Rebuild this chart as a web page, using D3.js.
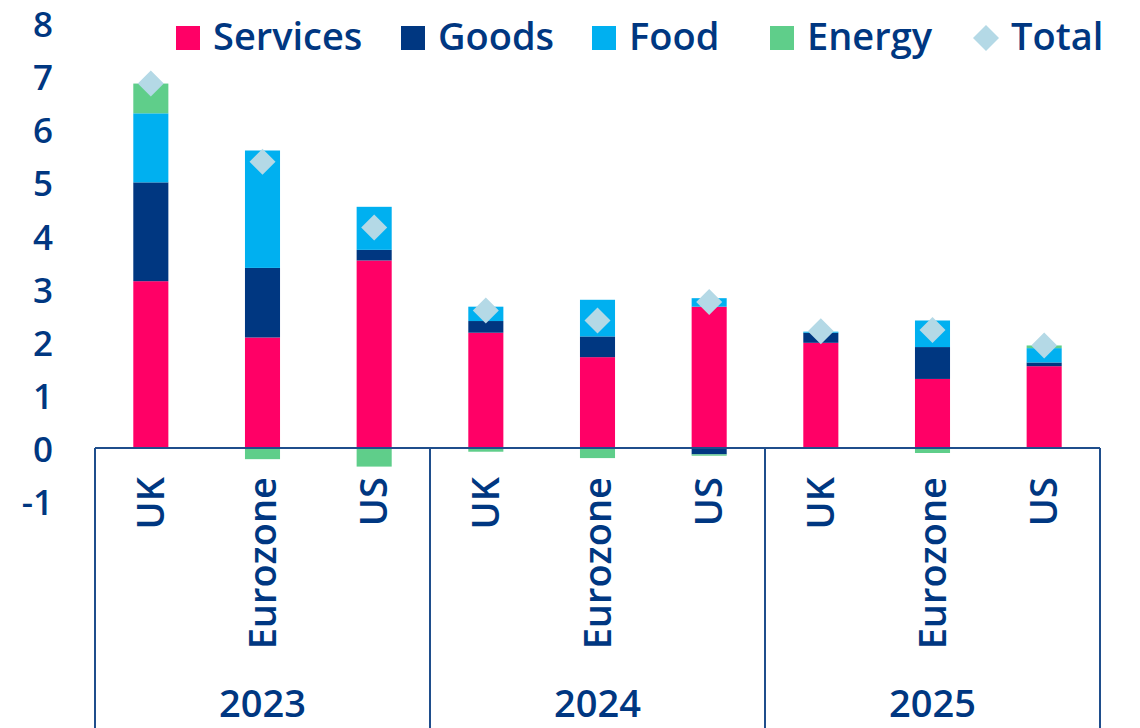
<!DOCTYPE html>
<html>
<head>
<meta charset="utf-8">
<script src="https://cdn.jsdelivr.net/npm/d3@7/dist/d3.min.js"></script>
<style>
  html, body { margin: 0; padding: 0; background: #ffffff; }
  svg { display: block; }
  text { font-family: "Open Sans", sans-serif; font-weight: 600; fill: #003781; }
</style>
</head>
<body>
<svg id="chart" width="1140" height="728"></svg>
<script>
// ---- data ----
const years = ["2023", "2024", "2025"];
const regions = ["UK", "Eurozone", "US"];
const seriesNames = ["Services", "Goods", "Food", "Energy"];
const services = [3.14, 2.08, 3.53, 2.17, 1.71, 2.66, 1.98, 1.30, 1.54];
const goods    = [1.86, 1.31, 0.20, 0.22, 0.39, -0.12, 0.19, 0.60, 0.07];
const food     = [1.30, 2.21, 0.81, 0.27, 0.69, 0.16, 0.02, 0.50, 0.27];
const energy   = [0.56, -0.21, -0.35, -0.07, -0.19, -0.025, 0.0, -0.094, 0.05];
const total    = [6.86, 5.39, 4.15, 2.59, 2.40, 2.75, 2.20, 2.22, 1.93];
const yTicks   = [-1, 0, 1, 2, 3, 4, 5, 6, 7, 8];
const colors   = ["#FF0066", "#003781", "#00B0F0", "#5FCE8A"];
const totalColor = "#B4D9E6";

// ---- build rows ----
const rows = [];
years.forEach((yr, gi) => regions.forEach((rg, ri) => {
  const i = gi * regions.length + ri;
  rows.push({ key: yr + "|" + rg, year: yr, region: rg,
    Services: services[i], Goods: goods[i], Food: food[i], Energy: energy[i], Total: total[i] });
}));

const svg = d3.select("#chart");
const W = 1140, H = 728;
const left = 95, right = 1100;

const x = d3.scaleBand().domain(rows.map(d => d.key)).range([left, right])
  .paddingInner(0.686).paddingOuter(0.343);
const y = d3.scaleLinear().domain([0, 8]).range([448, 23]);

const stack = d3.stack().keys(seriesNames).offset(d3.stackOffsetDiverging);
const stacked = stack(rows);

// bars
svg.append("g").selectAll("g").data(stacked).join("g")
  .attr("fill", (d, i) => colors[i])
  .selectAll("rect").data(d => d).join("rect")
  .attr("x", d => x(d.data.key))
  .attr("width", x.bandwidth())
  .attr("y", d => y(Math.max(d[0], d[1])))
  .attr("height", d => Math.abs(y(d[0]) - y(d[1])));

// axis frame
const axisColor = "#1F4E8C";
svg.append("line").attr("x1", left).attr("x2", right).attr("y1", y(0)).attr("y2", y(0))
  .attr("stroke", axisColor).attr("stroke-width", 2);

const groupScale = d3.scaleBand().domain(years).range([left, right]);
const bounds = years.map(g => groupScale(g)).concat([right]);
svg.append("g").selectAll("line").data(bounds).join("line")
  .attr("x1", d => d).attr("x2", d => d)
  .attr("y1", y(0)).attr("y2", H)
  .attr("stroke", axisColor).attr("stroke-width", 2);

// total diamonds
svg.append("g").selectAll("path").data(rows).join("path")
  .attr("d", d3.symbol(d3.symbolSquare, 338))
  .attr("transform", d => `translate(${x(d.key) + x.bandwidth() / 2},${y(d.Total)}) rotate(45)`)
  .attr("fill", totalColor);

// y tick labels
svg.append("g").selectAll("text").data(yTicks).join("text")
  .attr("x", 53).attr("y", d => y(d)).attr("dy", "0.4em")
  .attr("text-anchor", "end").style("font-size", "35px")
  .text(d => d);

// category labels (rotated)
svg.append("g").selectAll("text").data(rows).join("text")
  .attr("transform", d => `translate(${x(d.key) + x.bandwidth() / 2 + 13},477) rotate(-90)`)
  .attr("text-anchor", "end").style("font-size", "38px")
  .text(d => d.region);

// year labels
svg.append("g").selectAll("text").data(years).join("text")
  .attr("x", d => groupScale(d) + groupScale.bandwidth() / 2).attr("y", 717)
  .attr("text-anchor", "middle").style("font-size", "38px")
  .text(d => d);

// legend
const legendItems = seriesNames.map((n, i) => ({ name: n, color: colors[i], type: "sq" }))
  .concat([{ name: "Total", color: totalColor, type: "dia" }]);
const legendX = [176, 401, 592, 770, 973];
const lg = svg.append("g");
legendItems.forEach((it, i) => {
  const cx = legendX[i];
  if (it.type === "sq") {
    lg.append("rect").attr("x", cx).attr("y", 26).attr("width", 24).attr("height", 24).attr("fill", it.color);
  } else {
    lg.append("path").attr("d", d3.symbol(d3.symbolSquare, 338))
      .attr("transform", `translate(${cx + 13},38) rotate(45)`).attr("fill", it.color);
  }
  lg.append("text").attr("x", cx + (it.type === "sq" ? 37 : 38)).attr("y", 50)
    .style("font-size", "38px").text(it.name);
});
</script>
</body>
</html>
